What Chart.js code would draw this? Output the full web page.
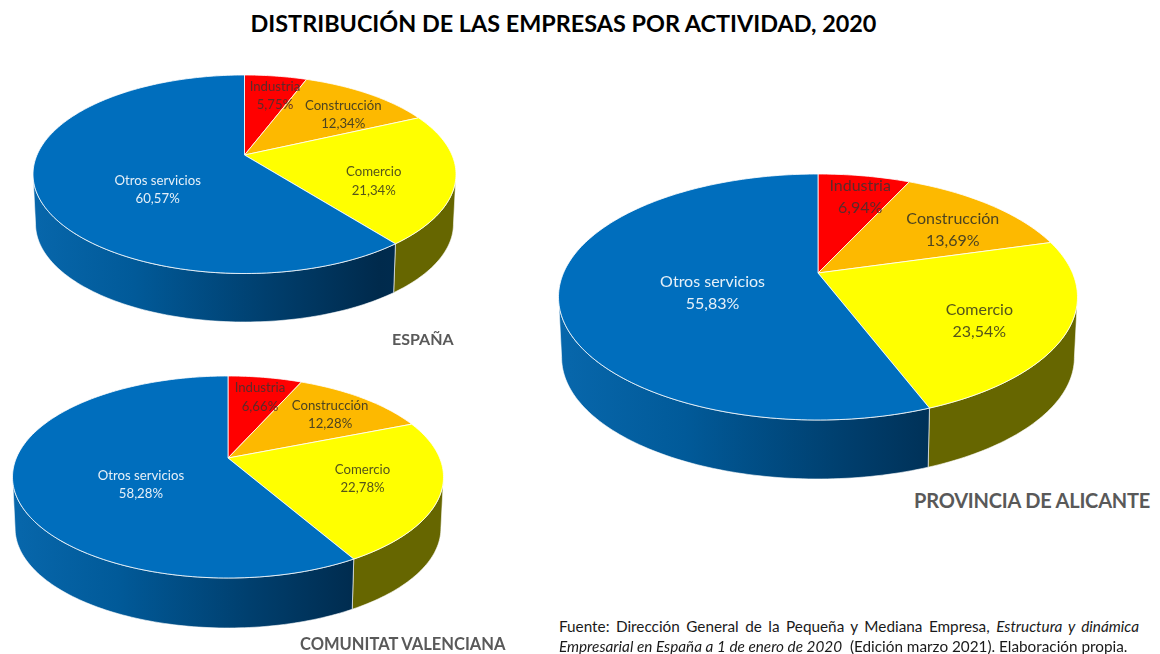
<!DOCTYPE html>
<html lang="es">
<head>
<meta charset="utf-8">
<title>Distribución de las empresas por actividad, 2020</title>
<script src="https://cdn.jsdelivr.net/npm/chart.js@4"></script>
<style>
  html, body { margin: 0; padding: 0; background: #fff; }
  body { width: 1160px; height: 654px; position: relative; overflow: hidden; font-family: Lato, sans-serif; }
  canvas { position: absolute; display: block; }
  .t { position: absolute; white-space: nowrap; line-height: 1; }
  #title { left: 0; width: 1127px; top: 12px; text-align: center; font-size: 23.4px; font-weight: 700; color: #000; }
  .cap { font-weight: 700; color: #595959; }
  .foot { font-size: 15.3px; color: #1a1a1a; left: 559px; }
</style>
</head>
<body>
<div class="t" id="title">DISTRIBUCIÓN DE LAS EMPRESAS POR ACTIVIDAD, 2020</div>
<canvas id="c1"></canvas>
<canvas id="c2"></canvas>
<canvas id="c3"></canvas>
<div class="t cap" style="left:392px;top:331px;font-size:16px">ESPAÑA</div>
<div class="t cap" style="left:914px;top:490px;font-size:20px;letter-spacing:-0.2px">PROVINCIA DE ALICANTE</div>
<div class="t cap" style="left:300px;top:636px;font-size:16.5px">COMUNITAT VALENCIANA</div>
<div class="t foot" style="top:619px;width:580px;white-space:normal;text-align:justify;text-align-last:justify">Fuente: Dirección General de la Pequeña y Mediana Empresa, <i>Estructura y dinámica</i></div>
<div class="t foot" style="top:639px"><i>Empresarial en España a 1 de enero de 2020</i>&nbsp; (Edición marzo 2021). Elaboración propia.</div>
<script>
const categories = ['Industria', 'Construcción', 'Comercio', 'Otros servicios'];
const espana = [5.75, 12.34, 21.34, 60.57];
const comunitat = [6.66, 12.28, 22.78, 58.28];
const alicante = [6.94, 13.69, 23.54, 55.83];

const topColors = ['#FF0000', '#FDB900', '#FFFF00', '#006EBD'];
const labelColors = ['#5c2a2a', '#4d4420', '#55551a', '#e6f0f8'];
const labelFraction = [0.75, 0.75, 0.66, 0.45];

const views = [
  { id: 'c1', values: espana, box: [20, 68, 450, 262], apex: [244.5, 155], rx: 211.5, far: 80, near: 118.5, wallBottom: 322, font: 13.2,
    nudge: [[6, 2], [3, 7], [-8, 11], [4, 20]] },
  { id: 'c2', values: comunitat, box: [4, 370, 450, 266], apex: [228, 458], rx: 215.5, far: 82, near: 120, wallBottom: 628, font: 13.2,
    nudge: [[3, 2], [-2, 3], [-3, -1], [7, 15]] },
  { id: 'c3', values: alicante, box: [550, 168, 536, 318], apex: [818, 273], rx: 259.5, far: 99, near: 147, wallBottom: 479, font: 16,
    nudge: [[6, 0], [2, 9], [2, 11], [9, 10]] }
];

// Perspective projection of the pie plane, fed with the angles Chart.js computes.
function makeProjector(view) {
  const ax = view.apex[0] - view.box[0], ay = view.apex[1] - view.box[1];
  const k = (view.far - view.near) / (view.far + view.near);
  const b = view.far * (1 - k);
  const a = view.rx * Math.sqrt(1 - k * k);
  const shrink = 0.988;
  const drop = (view.wallBottom - view.apex[1]) - view.near * shrink;
  const widest = Math.asin(-k);
  return {
    ax, ay,
    wallFrom: widest,
    wallTo: Math.PI - widest,
    top(theta, f) {
      const X = f * Math.cos(theta), Y = f * Math.sin(theta), d = 1 + k * Y;
      return [ax + a * X / d, ay + b * Y / d];
    },
    bottom(theta) {
      const p = this.top(theta, 1);
      return [ax + (p[0] - ax) * shrink, ay + (p[1] - ay) * shrink + drop];
    }
  };
}
const projectors = new Map();

function arcSteps(start, end) { return Math.max(2, Math.ceil((end - start) / 0.02)); }

// Slices keep Chart.js geometry (startAngle / endAngle) but are painted in perspective.
Chart.ArcElement.prototype.draw = function (ctx) {
  const pr = projectors.get(ctx.canvas);
  const { startAngle, endAngle } = this;
  const n = arcSteps(startAngle, endAngle);
  ctx.save();
  ctx.beginPath();
  ctx.moveTo(pr.ax, pr.ay);
  for (let i = 0; i <= n; i++) {
    const p = pr.top(startAngle + (endAngle - startAngle) * i / n, 1);
    ctx.lineTo(p[0], p[1]);
  }
  ctx.closePath();
  ctx.fillStyle = this.options.backgroundColor;
  ctx.fill();
  ctx.lineJoin = 'round';
  ctx.lineWidth = this.options.borderWidth;
  ctx.strokeStyle = this.options.borderColor;
  ctx.stroke();
  ctx.restore();
};

function wallFill(ctx, index, width) {
  if (index === 3) {
    const g = ctx.createLinearGradient(0, 0, width * 0.84, 0);
    g.addColorStop(0, '#0868ad');
    g.addColorStop(0.3, '#015a99');
    g.addColorStop(0.65, '#003f6e');
    g.addColorStop(0.95, '#002a4c');
    g.addColorStop(1, '#002b4e');
    return g;
  }
  return ['#800000', '#7f6000', '#666600'][index];
}

const wallsAndLabels = {
  id: 'wallsAndLabels',
  beforeDatasetsDraw(chart) {
    const { ctx } = chart, pr = projectors.get(ctx.canvas);
    chart.getDatasetMeta(0).data.forEach((arc, i) => {
      // only the part of the rim that faces the viewer gets a wall
      const s = Math.max(arc.startAngle, pr.wallFrom), e = Math.min(arc.endAngle, pr.wallTo);
      if (e <= s) return;
      const n = arcSteps(s, e);
      ctx.beginPath();
      for (let j = 0; j <= n; j++) {
        const p = pr.top(s + (e - s) * j / n, 1);
        j ? ctx.lineTo(p[0], p[1]) : ctx.moveTo(p[0], p[1]);
      }
      for (let j = n; j >= 0; j--) {
        const p = pr.bottom(s + (e - s) * j / n);
        ctx.lineTo(p[0], p[1]);
      }
      ctx.closePath();
      ctx.fillStyle = wallFill(ctx, i, chart.width);
      ctx.fill();
      ctx.lineWidth = 0.8;
      ctx.strokeStyle = 'rgba(255,255,255,0.75)';
      ctx.stroke();
    });
  },
  afterDatasetsDraw(chart, args, opts) {
    const { ctx } = chart, pr = projectors.get(ctx.canvas), view = opts.view;
    const values = chart.data.datasets[0].data;
    ctx.save();
    ctx.textAlign = 'center';
    ctx.textBaseline = 'middle';
    ctx.font = view.font + 'px Lato, sans-serif';
    const gap = view.font * 1.38;
    chart.getDatasetMeta(0).data.forEach((arc, i) => {
      const p = pr.top((arc.startAngle + arc.endAngle) / 2, labelFraction[i]);
      const x = p[0] + view.nudge[i][0], y = p[1] + view.nudge[i][1];
      ctx.fillStyle = labelColors[i];
      ctx.fillText(chart.data.labels[i], x, y - gap / 2);
      ctx.fillText(values[i].toFixed(2).replace('.', ',') + '%', x, y + gap / 2);
    });
    ctx.restore();
  }
};

views.forEach(view => {
  const canvas = document.getElementById(view.id);
  canvas.style.left = view.box[0] + 'px';
  canvas.style.top = view.box[1] + 'px';
  canvas.width = view.box[2];
  canvas.height = view.box[3];
  projectors.set(canvas, makeProjector(view));
  new Chart(canvas, {
    type: 'pie',
    data: {
      labels: categories,
      datasets: [{ data: view.values, backgroundColor: topColors, borderColor: 'rgba(255,255,255,0.8)', borderWidth: 1, clip: false }]
    },
    options: {
      responsive: false,
      animation: false,
      events: [],
      plugins: { legend: { display: false }, tooltip: { enabled: false }, wallsAndLabels: { view } }
    },
    plugins: [wallsAndLabels]
  });
});
</script>
</body>
</html>
